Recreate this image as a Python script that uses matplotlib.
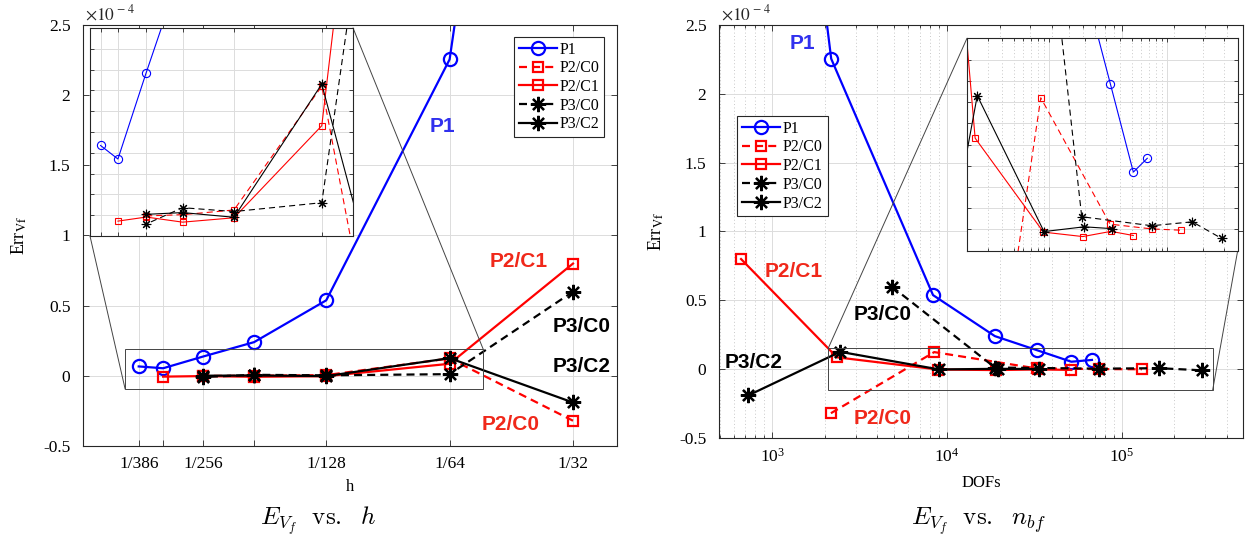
import matplotlib.pyplot as plt
from matplotlib.patches import Rectangle, ConnectionPatch
from matplotlib.ticker import FixedLocator, NullLocator, NullFormatter, LogLocator

plt.rcParams['font.family'] = ['Liberation Serif', 'DejaVu Serif']
plt.rcParams['mathtext.fontset'] = 'stix'

# Err_Vf values in units of 1e-4, ordered coarse -> fine mesh
h_p1 = [1/32, 1/64, 1/128, 1/192, 1/256, 1/320, 1/367]
err_p1 = [8.3, 2.255, 0.538, 0.24, 0.137, 0.054, 0.067]
dof_p1 = [560, 2173, 8318, 18800, 32900, 51500, 67600]

h_p2c0 = [1/32, 1/64, 1/128, 1/192, 1/256]
err_p2c0 = [-0.32, 0.124, 0.005, 0.0005, -0.0007]
dof_p2c0 = [2165, 8450, 32700, 73800, 130600]

h_p2c1 = [1/32, 1/64, 1/128, 1/192, 1/256, 1/320]
err_p2c1 = [0.80, 0.086, -0.0025, -0.0067, -0.0018, -0.0057]
dof_p2c1 = [662, 2345, 8900, 19200, 33300, 51500]

h_p3c0 = [1/32, 1/64, 1/128, 1/192, 1/256]
err_p3c0 = [0.60, 0.012, 0.0035, 0.0072, -0.0085]
dof_p3c0 = [4830, 18800, 73800, 163000, 289000]

h_p3c2 = [1/32, 1/64, 1/128, 1/192, 1/256]
err_p3c2 = [-0.19, 0.126, -0.002, 0.0025, 0.0008]
dof_p3c2 = [730, 2445, 9000, 19700, 33700]

labels = ['P1', 'P2/C0', 'P2/C1', 'P3/C0', 'P3/C2']
h_ticks = [1/367, 1/320, 1/256, 1/192, 1/128, 1/64, 1/32]
h_ticklabels = ['1/386', '', '1/256', '', '1/128', '1/64', '1/32']

series = [
    dict(h=h_p1, dof=dof_p1, err=err_p1, color='blue', ls='-', marker='o'),
    dict(h=h_p2c0, dof=dof_p2c0, err=err_p2c0, color='red', ls='--', marker='s'),
    dict(h=h_p2c1, dof=dof_p2c1, err=err_p2c1, color='red', ls='-', marker='s'),
    dict(h=h_p3c0, dof=dof_p3c0, err=err_p3c0, color='black', ls='--', marker=(8, 2, 0)),
    dict(h=h_p3c2, dof=dof_p3c2, err=err_p3c2, color='black', ls='-', marker=(8, 2, 0)),
]
msize = {'o': 9.5, 's': 7.5}
AX = '#262626'
GRID = '#dcdcdc'


def draw_series(ax, key, lw, scale):
    lines = []
    for s, lab in zip(series, labels):
        dash = (0, (3.6, 2.3)) if lw > 1 else (0, (5.5, 3.6))
        ls = dash if s['ls'] == '--' else '-'
        ms = msize.get(s['marker'], 11) if isinstance(s['marker'], str) else 11
        ln, = ax.plot(s[key], s['err'], color=s['color'], linestyle=ls, lw=lw,
                      marker=s['marker'], ms=ms * scale, mfc='none',
                      mec=s['color'], mew=lw, label=lab)
        lines.append(ln)
    return lines


def style_axes(ax, labels_on=True):
    for sp in ax.spines.values():
        sp.set_color(AX)
        sp.set_linewidth(0.8)
    ax.tick_params(which='both', direction='in', top=True, right=True,
                   color=AX, labelcolor='black', width=0.6)
    ax.tick_params(which='major', length=4.5)
    ax.tick_params(which='minor', length=2.5)
    ax.tick_params(axis='y', labelsize=12.5, pad=9)
    ax.tick_params(axis='x', labelsize=12.5, pad=7)
    ax.set_axisbelow(True)
    if not labels_on:
        ax.xaxis.set_major_formatter(NullFormatter())
        ax.xaxis.set_minor_formatter(NullFormatter())
        ax.yaxis.set_major_formatter(NullFormatter())


fig = plt.figure(figsize=(12.55, 5.41), dpi=100)
fig.patch.set_facecolor('white')

yticks = [-0.5, 0, 0.5, 1, 1.5, 2, 2.5]
yticklabels = ['-0.5', '0', '0.5', '1', '1.5', '2', '2.5']
inset_yticks = [-0.02, 0, 0.02, 0.04, 0.06, 0.08, 0.1, 0.12, 0.14, 0.16, 0.18]

# ---------------- left: error vs h ----------------
ax1 = fig.add_axes([0.0661, 0.1756, 0.4255, 0.7782])
ax1.set_xscale('log', base=2)
lines = draw_series(ax1, 'h', 1.6, 1.0)
ax1.set_xlim(1/502, 1/25)
ax1.set_ylim(-0.5, 2.5)
ax1.xaxis.set_major_locator(FixedLocator(h_ticks))
ax1.xaxis.set_minor_locator(NullLocator())
ax1.set_xticklabels(h_ticklabels)
ax1.set_yticks(yticks)
ax1.set_yticklabels(yticklabels)
ax1.grid(True, color=GRID, lw=0.7)
style_axes(ax1)
ax1.set_xlabel('h', fontsize=12)
ax1.xaxis.label.set_va('center')
ax1.xaxis.set_label_coords(0.5, -0.097)
ax1.set_ylabel(r'Err$_{\rm Vf}$', fontsize=13, va='center')
ax1.yaxis.set_label_coords(-0.12, 0.5)
ax1.text(0.003, 1.003, r'$\times10^{\,-4}$', transform=ax1.transAxes,
         fontsize=12.5, va='bottom', ha='left', color=AX)
ax1.legend(lines, labels, loc='upper right', bbox_to_anchor=(0.9757, 0.972),
           borderaxespad=0, fontsize=11.5, handlelength=2.4, handletextpad=0.15,
           labelspacing=0.17, borderpad=0.3, fancybox=False, framealpha=1,
           edgecolor=AX).get_frame().set_linewidth(0.8)

lab_font = dict(fontsize=15, fontweight='bold', family='Liberation Sans',
                ha='center', va='center', transform=ax1.transAxes)
ax1.text(0.674, 0.758, 'P1', color='#3030ee', **lab_font)
ax1.text(0.816, 0.439, 'P2/C1', color='#f0281a', **lab_font)
ax1.text(0.933, 0.285, 'P3/C0', color='black', **lab_font)
ax1.text(0.933, 0.188, 'P3/C2', color='black', **lab_font)
ax1.text(0.800, 0.050, 'P2/C0', color='#f0281a', **lab_font)

zoom_h = (1/396, 1/53)
zoom_err = (-0.095, 0.19)
ax1.add_patch(Rectangle((zoom_h[0], zoom_err[0]), zoom_h[1] - zoom_h[0],
                        zoom_err[1] - zoom_err[0], fill=False, ec='#444444',
                        lw=0.7, zorder=5))

in1 = fig.add_axes([0.0717, 0.5638, 0.2096, 0.3845])
in1.set_xscale('log', base=2)
draw_series(in1, 'h', 0.8, 0.62)
in1.set_xlim(1/399, 1/50)
in1.set_ylim(-0.02, 0.18)
in1.xaxis.set_major_locator(FixedLocator(h_ticks))
in1.xaxis.set_minor_locator(NullLocator())
in1.set_yticks(inset_yticks)
in1.grid(True, color=GRID, lw=0.7)
style_axes(in1, labels_on=False)
in1.tick_params(which='major', length=3)

for xa, ya, xb, yb in [(zoom_h[0], zoom_err[0], 0, 0), (zoom_h[1], zoom_err[1], 1, 1)]:
    ax1.add_artist(ConnectionPatch(xyA=(xa, ya), coordsA=ax1.transData,
                                   xyB=(xb, yb), coordsB=in1.transAxes,
                                   color='#444444', lw=0.7, zorder=5))

# ---------------- right: error vs DOFs ----------------
ax2 = fig.add_axes([0.5729, 0.1904, 0.4175, 0.7634])
ax2.set_xscale('log')
lines2 = draw_series(ax2, 'dof', 1.6, 1.0)
ax2.set_xlim(495, 4.95e5)
ax2.set_ylim(-0.5, 2.5)
ax2.set_xticks([1e3, 1e4, 1e5])
ax2.xaxis.set_minor_locator(LogLocator(base=10, subs=range(2, 10)))
ax2.xaxis.set_minor_formatter(NullFormatter())
ax2.set_yticks(yticks)
ax2.set_yticklabels(yticklabels)
ax2.grid(True, which='major', color=GRID, lw=0.7)
ax2.grid(True, which='minor', color='#c8c8c8', lw=0.7, ls=(0, (1, 2.5)))
style_axes(ax2)
ax2.set_xlabel('DOFs', fontsize=12)
ax2.xaxis.label.set_va('center')
ax2.xaxis.set_label_coords(0.5, -0.109)
ax2.set_ylabel(r'Err$_{\rm Vf}$', fontsize=13, va='center')
ax2.yaxis.set_label_coords(-0.12, 0.5)
ax2.text(0.003, 1.003, r'$\times10^{\,-4}$', transform=ax2.transAxes,
         fontsize=12.5, va='bottom', ha='left', color=AX)
ax2.legend(lines2, labels, loc='upper left', bbox_to_anchor=(0.035, 0.780),
           borderaxespad=0, fontsize=11.5, handlelength=2.4, handletextpad=0.15,
           labelspacing=0.17, borderpad=0.3, fancybox=False, framealpha=1,
           edgecolor=AX).get_frame().set_linewidth(0.8)

lab_font['transform'] = ax2.transAxes
ax2.text(0.160, 0.956, 'P1', color='#3030ee', **lab_font)
ax2.text(0.143, 0.402, 'P2/C1', color='#f0281a', **lab_font)
ax2.text(0.313, 0.300, 'P3/C0', color='black', **lab_font)
ax2.text(0.067, 0.182, 'P3/C2', color='black', **lab_font)
ax2.text(0.313, 0.048, 'P2/C0', color='#f0281a', **lab_font)

zoom_dof = (2090, 332000)
zoom_err2 = (-0.152, 0.152)
ax2.add_patch(Rectangle((zoom_dof[0], zoom_err2[0]), zoom_dof[1] - zoom_dof[0],
                        zoom_err2[1] - zoom_err2[0], fill=False, ec='#444444',
                        lw=0.7, zorder=5))

in2 = fig.add_axes([0.7705, 0.5366, 0.2157, 0.3926])
in2.set_xscale('log')
draw_series(in2, 'dof', 0.8, 0.62)
in2.set_xlim(2000, 395000)
in2.set_ylim(-0.02, 0.18)
in2.set_xticks([1e4, 1e5])
in2.xaxis.set_minor_locator(LogLocator(base=10, subs=range(2, 10)))
in2.set_yticks(inset_yticks)
in2.grid(True, which='major', color=GRID, lw=0.7)
in2.grid(True, which='minor', color='#c8c8c8', lw=0.7, ls=(0, (1, 2.5)))
style_axes(in2, labels_on=False)
in2.tick_params(which='major', length=3)

for xa, ya, xb, yb in [(zoom_dof[0], zoom_err2[1], 0, 1), (zoom_dof[1], zoom_err2[0], 1, 0)]:
    ax2.add_artist(ConnectionPatch(xyA=(xa, ya), coordsA=ax2.transData,
                                   xyB=(xb, yb), coordsB=in2.transAxes,
                                   color='#444444', lw=0.7, zorder=5))

# captions
fig.text(318 / 1255, 16 / 541, r'$E_{V_f}\ \ \mathrm{vs.}\ \ h$', fontsize=18,
         math_fontfamily='cm', ha='center', va='baseline')
fig.text(979 / 1255, 16 / 541, r'$E_{V_f}\ \ \mathrm{vs.}\ \ n_{bf}$', fontsize=18,
         math_fontfamily='cm', ha='center', va='baseline')

fig.savefig('out.png', dpi=100)
